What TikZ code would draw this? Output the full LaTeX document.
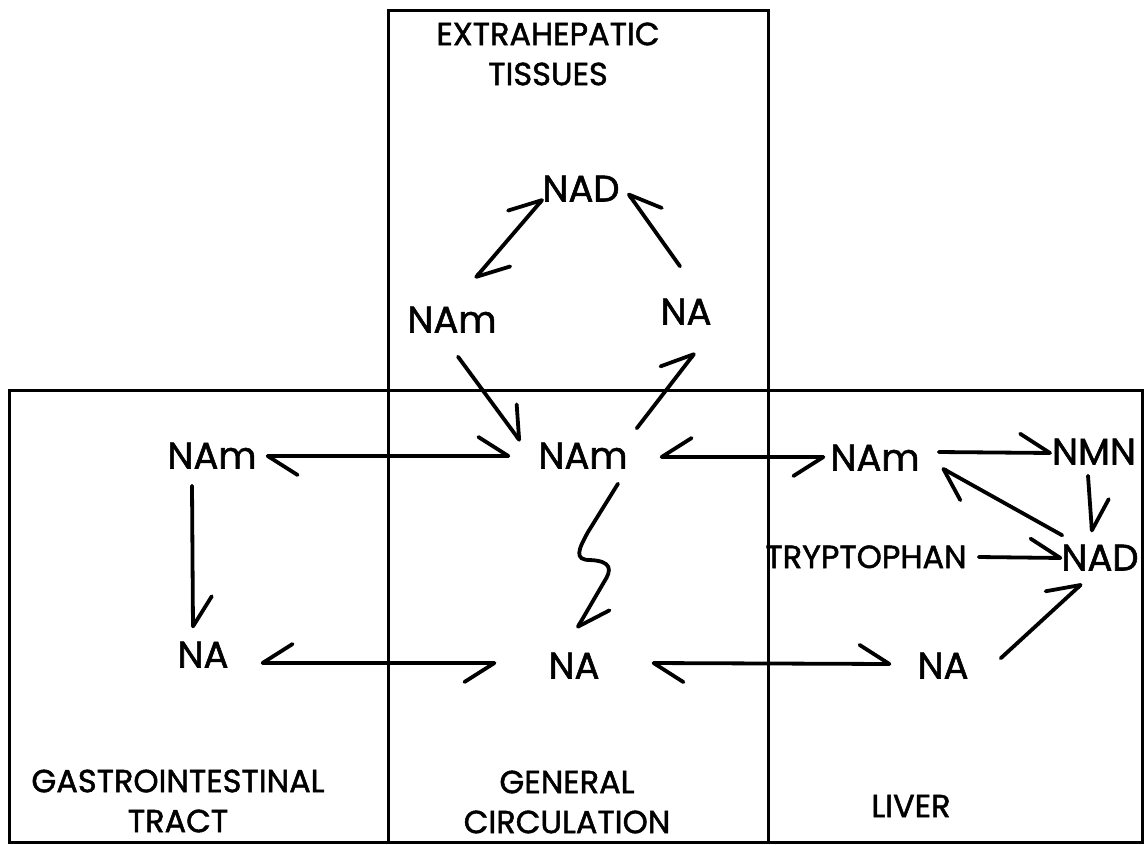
\documentclass[tikz,border=0pt]{standalone}
\usepackage{fontspec}
\setmainfont{Poppins}[BoldFont=Poppins,BoldFeatures={FakeBold=1.5}]
\usetikzlibrary{arrows.meta,calc}

\tikzset{
  hl/.tip={Straight Barb[harpoon,round,length=30pt,width=38pt]},
  hr/.tip={Straight Barb[harpoon,swap,round,length=30pt,width=38pt]},
  mol/.style={inner sep=0pt,text height=25pt,text depth=0pt,font=\fontsize{37}{37}\selectfont\bfseries},
  region/.style={inner sep=0pt,align=center,font=\fontsize{32}{40}\selectfont\bfseries},
  flow/.style={line width=3.8pt,line cap=round},
  box/.style={line width=3pt},
}

\begin{document}
\begin{tikzpicture}[x=1pt,y=-1pt]
\useasboundingbox (0,0) rectangle (1147,844);
\fill[white] (0,0) rectangle (1147,844);
% compartments
\draw[box] (9,390) rectangle (1142,842);
\draw[box] (388,10) rectangle (768,842);
\node[region] (extlabel) at (548,54) {EXTRAHEPATIC\\TISSUES};
\node[region] (gilabel) at (178,801) {GASTROINTESTINAL\\TRACT};
\node[region] (gclabel) at (567,802) {GENERAL\\CIRCULATION};
\node[region] (lvlabel) at (911,806) {LIVER};
% extrahepatic tissues
\node[mol] (extNAD) at (581,189) {NAD};
\node[mol] (extNAm) at (452,320) {NAm};
\node[mol] (extNA) at (686,312) {NA};
% gastrointestinal tract
\node[mol] (giNAm) at (212,456) {NAm};
\node[mol] (giNA) at (203,655) {NA};
% general circulation
\node[mol] (gcNAm) at (583,456) {NAm};
\node[mol] (gcNA) at (574,666) {NA};
% liver
\node[mol] (lvNAm) at (875,458) {NAm};
\node[mol] (lvNMN) at (1094,452) {NMN};
\node[mol] (lvNAD) at (1100,558) {NAD};
\node[mol] (lvNA) at (943,666) {NA};
\node[mol,font=\fontsize{32}{32}\selectfont\bfseries,text height=22pt] (trp) at (866,557) {TRYPTOPHAN};

% exchange between compartments
\draw[flow,hl-hl] ($(giNAm.east)+(9,0)$) -- ($(gcNAm.west)+(-28,0)$);
\draw[flow,hr-hr] ($(giNA.east)+(32,8)$) -- ($(gcNA.west)+(-52,-3)$);
\draw[flow,hl-hl] ($(gcNA.east)+(52,-3)$) -- ($(lvNA.west)+(-26,-2)$);
\draw[flow,hr-hr] ($(gcNAm.east)+(32,1)$) -- ($(lvNAm.west)+(-5,-1)$);
\draw[flow,-hl] ($(extNAm.south)+(6,24)$) -- ($(gcNAm.north west)+(-18,-2)$);
\draw[flow,-hl] ($(gcNAm.north east)+(9,-15)$) -- ($(extNA.south)+(9,28)$);
\draw[flow,-hl] ($(giNAm.south)+(-20,17)$) -- ($(giNA.north)+(-10,-14)$);
% extrahepatic cycle
\draw[flow,hl-hl] ($(extNAm.north)+(23,-29)$) -- ($(extNAD.south west)+(1,-3)$);
\draw[flow,-hr] ($(extNA.north)+(-6,-33)$) -- ($(extNAD.east)+(8,4)$);
% liver
\draw[flow,-hl] ($(lvNAm.east)+(19,-6)$) -- ($(lvNMN.west)+(0,1)$);
\draw[flow,-hl] ($(lvNMN.south)+(-6,11)$) -- ($(lvNAD.north)+(-8,-13)$);
\draw[flow,-hl] ($(lvNAD.north west)+(1,-10)$) -- ($(lvNAm.east)+(22,10)$);
\draw[flow,-hl] ($(trp.east)+(12,0)$) -- ($(lvNAD.west)+(1,0)$);
\draw[flow,-hl] ($(lvNA.north east)+(32,5)$) -- ($(lvNAD.south)+(-18,13)$);
% NAm to NA, wavy
\draw[flow,-hl] ($(gcNAm.south)+(35,15)$) -- (588,532)
  .. controls (578,550) and (574,560) .. (590,560)
  .. controls (612,561) and (612,570) .. (604,582) -- ($(gcNA.north)+(3,-25)$);
\end{tikzpicture}
\end{document}
